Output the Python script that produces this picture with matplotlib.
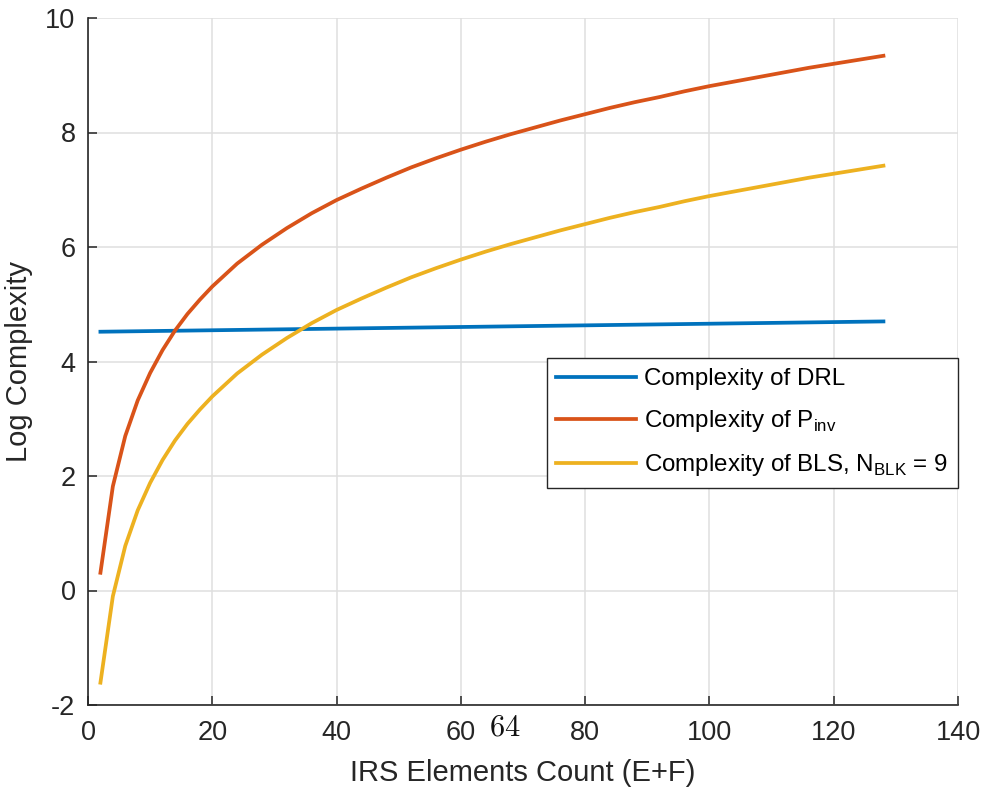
import numpy as np
import matplotlib
matplotlib.use('Agg')
from matplotlib import pyplot as plt

plt.rcParams['font.family'] = ['Liberation Sans', 'DejaVu Sans']
plt.rcParams['axes.unicode_minus'] = False

# values
x_drl = [2, 128]
drl = [4.52, 4.70]

x_el = [2, 4, 6, 8, 10, 12, 14, 16, 18, 20, 24, 28, 32, 36, 40, 44, 48, 52,
        56, 60, 64, 68, 72, 76, 80, 84, 88, 92, 96, 100, 104, 108, 112, 116,
        120, 124, 128]
pinv = [0.31, 1.82, 2.70, 3.32, 3.80, 4.20, 4.54, 4.83, 5.08, 5.31, 5.71,
        6.04, 6.33, 6.59, 6.82, 7.02, 7.21, 7.39, 7.55, 7.70, 7.84, 7.97,
        8.09, 8.21, 8.32, 8.43, 8.53, 8.62, 8.72, 8.81, 8.89, 8.97, 9.05,
        9.13, 9.20, 9.27, 9.34]
bls = [-1.61, -0.10, 0.78, 1.40, 1.88, 2.28, 2.62, 2.91, 3.16, 3.39, 3.79,
       4.12, 4.41, 4.67, 4.90, 5.10, 5.29, 5.47, 5.63, 5.78, 5.92, 6.05,
       6.17, 6.29, 6.40, 6.51, 6.61, 6.70, 6.80, 6.89, 6.97, 7.05, 7.13,
       7.21, 7.28, 7.35, 7.42]

labels = ['Complexity of DRL',
          r'Complexity of P$_{\mathregular{inv}}$',
          r'Complexity of BLS, N$_{\mathregular{BLK}}$ = 9']
colors = ['#0072BD', '#D95319', '#EDB120']

xticks = np.arange(0, 141, 20)
yticks = np.arange(-2, 11, 2)

fig = plt.figure(figsize=(9.85, 7.92), dpi=100)
ax = fig.add_axes([88/985, 1-705/792, (958-88)/985, (705-18)/792])

ax.plot(x_drl, drl, color=colors[0], lw=2.7, label=labels[0])
ax.plot(x_el, pinv, color=colors[1], lw=2.7, label=labels[1])
ax.plot(x_el, bls, color=colors[2], lw=2.7, label=labels[2])

ax.set_xlim(0, 140)
ax.set_ylim(-2, 10)
ax.set_xticks(xticks)
ax.set_yticks(yticks)
ax.grid(True, color='#dfdfdf', lw=1.1)
ax.set_axisbelow(True)
for s in ['top', 'right']:
    ax.spines[s].set_visible(False)
for s in ['left', 'bottom']:
    ax.spines[s].set_color('#262626')
    ax.spines[s].set_linewidth(1.2)
ax.tick_params(direction='in', length=6.5, width=1.1, color='#262626',
               labelcolor='#262626', labelsize=19.5)
ax.tick_params(axis='x', pad=11)
ax.tick_params(axis='y', pad=9)

ax.set_xlabel('IRS Elements Count (E+F)', fontsize=21, color='#262626', labelpad=9)
ax.set_ylabel('Log Complexity', fontsize=21, color='#262626', labelpad=9)

leg = ax.legend(loc='lower right', bbox_to_anchor=(1.0, (705-488)/687),
                borderaxespad=0, fontsize=17.4, handlelength=3.3,
                handletextpad=0.35, labelspacing=0.75, fancybox=False,
                framealpha=1, edgecolor='#262626', borderpad=0.4)
leg.get_frame().set_linewidth(1.0)

fig.text(505/985, 1-727/792, '$64$', fontsize=22, ha='center', va='center',
         math_fontfamily='cm', color='#111111')

fig.savefig('out.png', dpi=100)
